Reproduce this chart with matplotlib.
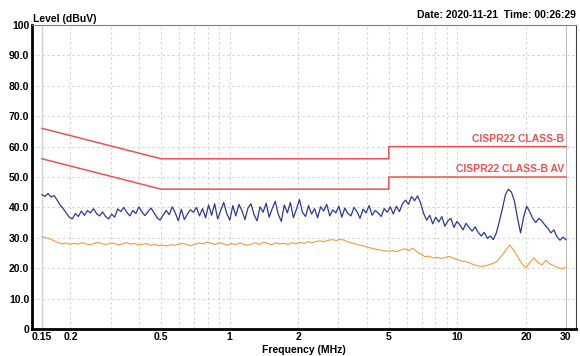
import numpy as np
import matplotlib.pyplot as plt

plt.rcParams['font.family'] = ['Liberation Sans', 'DejaVu Sans']

# CISPR22 class B limit lines (MHz, dBuV)
qp_freq = [0.15, 0.5, 5, 5, 30]
qp_level = [66, 56, 56, 60, 60]
av_freq = [0.15, 0.5, 5, 5, 30]
av_level = [56, 46, 46, 50, 50]

# peak trace (sweep 0.15 - 30 MHz)
peak_level = [
    44.2, 43.6, 44.6, 43.4, 43.9,
    42.4, 40.8, 39.6, 38.2, 36.8,
    36.2, 38.0, 37.0, 38.8, 37.4, 39.0, 38.2, 39.6, 38.0, 37.2,
    38.5, 37.0, 36.2, 37.8, 36.8, 39.5, 38.6, 40.0, 38.4, 37.2,
    39.0, 38.0, 40.2, 38.5, 37.3, 38.6, 39.8, 38.2, 36.6, 35.8,
    37.5, 39.0, 37.6, 40.2, 38.2, 35.6, 39.4, 36.0, 37.8, 39.2, 38.4, 40.0, 37.2,
    39.6, 36.6, 40.8, 37.4, 41.2, 36.2, 39.0, 41.6, 38.0, 35.8, 40.6, 37.2, 41.0,
    39.0, 36.0, 39.8, 41.2, 37.6, 35.6, 40.2, 38.4, 41.4, 36.8, 39.6, 42.0, 37.8,
    35.4, 40.8, 38.2, 41.6, 36.6, 39.4, 42.6,
    38.4, 37.0, 40.6, 37.8, 39.6, 36.6, 40.2, 38.8, 41.0, 37.2, 39.2, 38.2, 40.4,
    36.8, 39.8, 38.0, 37.2, 40.0, 38.6, 36.4, 39.4, 38.2, 40.6, 37.4, 39.0, 38.2,
    37.0, 39.6, 38.4, 40.2,
    37.8, 40.4, 38.6, 41.2, 42.4, 41.0, 43.6, 42.2, 43.8, 41.4,
    38.0, 35.8, 37.4, 34.6, 36.8, 35.2, 37.0, 33.8, 35.6, 36.4, 33.4, 35.4, 34.2,
    32.6, 34.8, 33.4, 32.2, 33.6, 31.8, 30.6, 31.8, 29.8, 30.6, 29.4,
    31.6, 35.4, 39.6, 44.2, 46.0, 45.0, 42.0, 36.4, 31.6,
    36.8, 40.4, 38.6, 36.4, 35.0, 36.4, 35.6, 34.2, 33.2, 31.6, 32.6, 30.4, 29.2,
    30.2, 29.4,
]

# average trace
avg_level = [
    30.4, 30.0, 29.6, 29.0, 28.4,
    28.0, 28.3, 27.8, 28.2, 27.9, 28.4, 28.0, 27.7, 28.2, 28.5, 28.0, 27.8, 28.3,
    28.1, 27.7, 28.0, 28.4, 27.9, 28.2, 27.6, 27.9, 28.1, 27.5, 27.8, 27.4,
    27.6, 27.3, 27.8, 27.5, 27.9, 28.2, 27.7, 27.4, 27.9, 28.3, 28.0, 28.6, 28.2,
    27.8, 28.4, 28.0, 27.6, 28.1, 27.8, 28.3, 27.9, 27.5, 28.0, 28.4, 27.8, 28.6,
    28.1, 27.7, 28.3, 28.0,
    28.2, 27.8, 28.4, 28.0, 28.5, 28.2, 28.7, 28.4, 28.8, 29.0, 28.7, 29.2, 29.4,
    29.1, 29.5,
    29.2, 28.6, 28.2, 27.9, 27.5, 27.3, 26.8, 26.5, 26.2, 26.0, 25.7, 25.6, 25.8,
    25.4, 26.0, 26.4, 25.8, 26.6, 25.4, 24.6,
    23.8, 24.0, 23.4, 23.6, 23.2, 23.5, 23.9, 23.3, 22.8, 22.4, 22.2, 21.8, 21.2,
    20.8, 20.6,
    20.8, 21.2, 21.6, 22.4, 24.0, 25.8, 27.6, 26.0, 23.8, 21.6, 20.2, 21.8, 23.4,
    22.0, 21.0, 22.6, 21.4, 20.8, 20.2, 19.8, 20.4,
]

x_ticks = [0.15, 0.2, 0.5, 1, 2, 5, 10, 20, 30]
x_ticklabels = ['0.15', '0.2', '0.5', '1', '2', '5', '10', '20', '30']
grid_freq = [0.2, 0.3, 0.4, 0.5, 0.6, 0.7, 0.8, 0.9, 1, 2, 3, 4, 5, 6, 7, 8, 9, 10, 20]
y_ticks = [0, 10, 20, 30, 40, 50, 60, 70, 80, 90, 100]
y_ticklabels = ['0', '10.0', '20.0', '30.0', '40.0', '50.0', '60.0', '70.0', '80.0', '90.0', '100']

# analyzer sweep points are log spaced
peak_freq = np.geomspace(0.15, 30, len(peak_level))
avg_freq = np.geomspace(0.15, 30, len(avg_level))

fig = plt.figure(figsize=(5.8, 3.56), dpi=100)
ax = fig.add_axes([32/580, 27/356, 544/580, 304/356])
ax.set_xscale('log')
ax.set_xlim(0.1356, 33.19)
ax.set_ylim(0, 100)

for f in grid_freq:
    ax.axvline(f, color='#d2d2d2', lw=0.8, ls=(0, (2, 2.5)), zorder=0)
for v in y_ticks[1:-1]:
    ax.axhline(v, color='#d2d2d2', lw=0.8, ls=(0, (2, 2.5)), zorder=0)
ax.axvline(0.15, color='#d0d0d0', lw=1.0, zorder=0)
ax.axvline(30, color='#c0c0c0', lw=0.8, zorder=0)

red = '#f25050'
ax.plot(qp_freq, qp_level, color=red, lw=1.1)
ax.plot(av_freq, av_level, color=red, lw=1.1)
ax.plot(avg_freq, avg_level, color='#f39a3a', lw=0.8)
ax.plot(peak_freq, peak_level, color='#2e3a94', lw=0.9)

ax.text(29.5, 61, 'CISPR22 CLASS-B', color=red, fontsize=7.5,
        fontweight='bold', ha='right', va='bottom')
ax.text(29.5, 51, 'CISPR22 CLASS-B AV', color=red, fontsize=7.5,
        fontweight='bold', ha='right', va='bottom')

ax.set_xticks(x_ticks)
ax.set_xticklabels(x_ticklabels, fontsize=7.5, fontweight='bold')
ax.set_xticks([], minor=True)
ax.set_yticks(y_ticks)
ax.set_yticklabels(y_ticklabels, fontsize=7.5, fontweight='bold')
ax.tick_params(length=0, pad=2)

ax.spines['left'].set_linewidth(2)
ax.spines['bottom'].set_linewidth(2)
ax.spines['top'].set_color('#808080')
ax.spines['right'].set_color('#404040')

fig.text(33/580, 1 - 19/356, 'Level (dBuV)', fontsize=7.5, fontweight='bold',
         ha='left', va='center')
fig.text(576/580, 1 - 15/356, 'Date: 2020-11-21  Time: 00:26:29', fontsize=7.5,
         fontweight='bold', ha='right', va='center')
fig.text(304/580, 1 - 350/356, 'Frequency (MHz)', fontsize=7.5, fontweight='bold',
         ha='center', va='center')

fig.savefig('out.png', dpi=100)
